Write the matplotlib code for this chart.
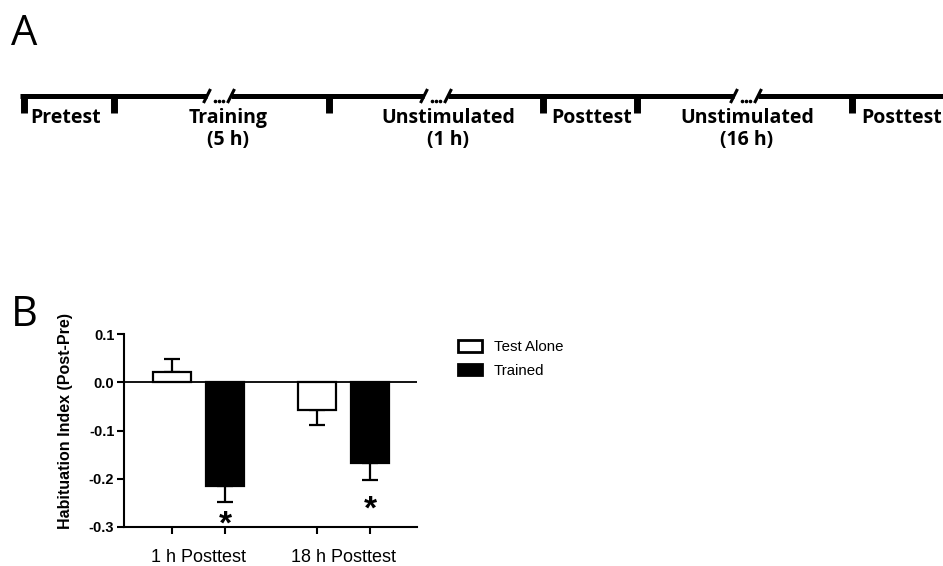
import matplotlib
matplotlib.use("Agg")
import matplotlib.pyplot as plt
from matplotlib.patches import Patch
import numpy as np

# ---------------- data ----------------
groups = ["1 h Posttest", "18 h Posttest"]
series = ["Test Alone", "Trained"]
test_alone = [0.022, -0.058]
test_alone_err = [0.026, 0.030]
trained = [-0.215, -0.168]
trained_err = [0.033, 0.034]
sig_trained_y = [-0.282, -0.251]   # where the "*" marks sit
yticks = [0.1, 0.0, -0.1, -0.2, -0.3]

# timeline (panel A)
tl_labels = ["Pretest", "Training\n(5 h)", "Unstimulated\n(1 h)", "Posttest",
             "Unstimulated\n(16 h)", "Posttest"]
tl_label_x = [66, 228, 448, 592, 747, 902]
tl_ticks = [23.5, 114, 329, 543, 637, 852]
tl_breaks = [219, 436, 746]

W, H = 943, 566
fig = plt.figure(figsize=(W / 100, H / 100), dpi=100)

# ---------------- panel A (pixel-coordinate overlay) ----------------
ov = fig.add_axes([0, 0, 1, 1])
ov.set_xlim(0, W)
ov.set_ylim(H, 0)
ov.axis("off")

line_y = 96
x0, x1 = 20, W
gap = 12
edges = [x0]
for b in tl_breaks:
    edges += [b - gap, b + gap]
edges.append(x1)
for a, b in zip(edges[0::2], edges[1::2]):
    ov.plot([a, b], [line_y, line_y], color="black", lw=3.6, solid_capstyle="butt")
for t in tl_ticks:
    ov.plot([t, t], [line_y - 2, 113], color="black", lw=5, solid_capstyle="butt")
for b in tl_breaks:
    for s in (-1, 1):
        cx = b + s * gap
        ov.plot([cx - 3.5, cx + 3.5], [103, 89], color="black", lw=2.2,
                solid_capstyle="butt")
    ov.plot([b - 4, b, b + 4], [101, 101, 101], ls="none", marker="o",
            ms=1.6, color="black")
for lab, x in zip(tl_labels, tl_label_x):
    ov.text(x, 108, lab, ha="center", va="top", fontsize=14,
            fontfamily="Open Sans", fontweight="bold", linespacing=1.15)

ov.text(11, 45, "A", fontsize=30, fontfamily="Open Sans", ha="left",
        va="baseline")
ov.text(11, 326, "B", fontsize=30, fontfamily="Open Sans", ha="left",
        va="baseline")

# ---------------- panel B ----------------
left_px, right_px, top_px, bot_px = 124, 417, 334, 527
ax = fig.add_axes([left_px / W, 1 - bot_px / H,
                   (right_px - left_px) / W, (bot_px - top_px) / H])
gx = np.arange(len(groups))
off = 0.183
bw = 0.262
xa = gx - off
xb = gx + off

def one_sided(vals, errs):
    lo = [e if v < 0 else 0 for v, e in zip(vals, errs)]
    hi = [e if v >= 0 else 0 for v, e in zip(vals, errs)]
    return [lo, hi]

ax.bar(xa, test_alone, bw, color="white", edgecolor="black", lw=1.6,
       label=series[0], zorder=3)
ax.bar(xb, trained, bw, color="black", edgecolor="black", lw=1.6,
       label=series[1], zorder=3)
ax.errorbar(xa, test_alone, yerr=one_sided(test_alone, test_alone_err),
            fmt="none", ecolor="black", elinewidth=1.6, capsize=5.5,
            capthick=1.6, zorder=2)
ax.errorbar(xb, trained, yerr=one_sided(trained, trained_err),
            fmt="none", ecolor="black", elinewidth=1.6, capsize=5.5,
            capthick=1.6, zorder=2)
ax.axhline(0, color="black", lw=1.3, zorder=4)

star_fs = 24
for x, y in zip(xb, sig_trained_y):
    ax.annotate("*", (x, y), xytext=(0, -0.575 * star_fs + 2.5),
                textcoords="offset points", ha="center", va="baseline",
                fontsize=star_fs, fontweight="bold",
                fontfamily="Liberation Sans")

ax.set_xlim(-0.514, 1.507)
ax.set_ylim(-0.3, 0.1)
ax.set_yticks(yticks)
ax.set_yticklabels([f"{t:.1f}" for t in yticks], fontsize=10.5,
                   fontweight="bold", fontfamily="Liberation Sans")
ax.set_xticks(np.concatenate([xa, xb]))
ax.set_xticklabels([])
ax.set_xticks(gx, minor=True)
ax.set_xticklabels(groups, minor=True, fontsize=13, fontfamily="Liberation Sans")
ax.tick_params(axis="x", which="minor", length=0, pad=16)
ax.tick_params(axis="x", which="major", length=5, width=1.5)
ax.tick_params(axis="y", length=5, width=1.5, pad=2)
for sp in ("top", "right"):
    ax.spines[sp].set_visible(False)
for sp in ("left", "bottom"):
    ax.spines[sp].set_linewidth(1.5)
ax.set_ylabel("Habituation Index (Post-Pre)", fontsize=11.5, fontweight="bold",
              fontfamily="Liberation Sans")
ax.yaxis.set_label_coords(-0.174, 0.55)

handles = [Patch(facecolor="white", edgecolor="black", lw=2),
           Patch(facecolor="black", edgecolor="black", lw=2)]
fig.legend(handles, series, loc="upper left",
           bbox_to_anchor=(458 / W, 1 - 340 / H), frameon=False,
           prop={"family": "Liberation Sans", "size": 10.8},
           handlelength=1.6, handleheight=0.8, handletextpad=0.8,
           labelspacing=0.65, borderpad=0, borderaxespad=0)

fig.savefig("out.png", dpi=100)
